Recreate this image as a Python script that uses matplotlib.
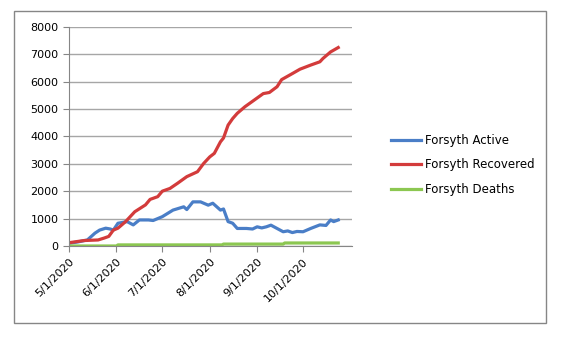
import matplotlib.pyplot as plt
import matplotlib.dates as mdates
import numpy as np
import pandas as pd

# dias contados a partir de 5/1/2020
start = pd.Timestamp('2020-05-01')
month_ticks = ['2020-05-01', '2020-06-01', '2020-07-01', '2020-08-01', '2020-09-01', '2020-10-01']

active_days = [0, 6, 12, 17, 20, 24, 27, 29, 32, 38, 42, 46, 52, 55, 61, 68, 75, 77, 81, 86,
               91, 94, 99, 101, 104, 107, 110, 116, 120, 123, 126, 129, 132, 136, 140, 143,
               146, 149, 153, 158, 164, 168, 171, 173, 176]
active = [100, 150, 220, 470, 580, 650, 620, 580, 830, 890, 770, 950, 950, 930, 1070, 1310,
          1430, 1330, 1610, 1610, 1490, 1560, 1310, 1350, 890, 830, 640, 640, 620, 700, 660,
          700, 760, 640, 520, 550, 490, 530, 520, 640, 770, 750, 950, 890, 950]

recovered_days = [0, 10, 19, 23, 26, 29, 32, 37, 43, 50, 53, 58, 61, 66, 71, 77, 84, 88, 92,
                  95, 99, 101, 104, 107, 110, 115, 120, 127, 131, 136, 139, 146, 151, 158,
                  164, 166, 171, 176]
recovered = [120, 200, 220, 290, 350, 580, 650, 890, 1250, 1500, 1700, 1800, 2000, 2100, 2290,
             2530, 2710, 3010, 3250, 3380, 3800, 3940, 4410, 4650, 4840, 5080, 5280, 5560,
             5600, 5810, 6070, 6290, 6450, 6600, 6720, 6840, 7080, 7240]

deaths_days = [0, 31, 32, 100, 101, 140, 141, 176]
deaths = [0, 0, 40, 40, 70, 70, 110, 110]

def to_dates(days):
    return [start + pd.Timedelta(days=d) for d in days]

fig = plt.figure(figsize=(5.79, 3.37), dpi=100)

# borda externa do grafico
fig.patches.append(plt.Rectangle((14 / 579, 1 - 323 / 337), 532 / 579, 312 / 337,
                                 transform=fig.transFigure, fill=False,
                                 edgecolor='#868686', linewidth=1))

ax = fig.add_axes([69 / 579, 1 - 246 / 337, 283 / 579, 219.3 / 337])

ax.plot(to_dates(active_days), active, color='#4A7EC7', linewidth=2.3, label='Forsyth Active')
ax.plot(to_dates(recovered_days), recovered, color='#D33B3B', linewidth=2.3, label='Forsyth Recovered')
ax.plot(to_dates(deaths_days), deaths, color='#8CC751', linewidth=2.3, label='Forsyth Deaths')

ax.set_ylim(0, 8000)
ax.set_yticks(np.arange(0, 8001, 1000))
ax.set_xlim(start, start + pd.Timedelta(days=185))
ax.set_xticks(pd.to_datetime(month_ticks))
ax.xaxis.set_major_formatter(mdates.DateFormatter('%-m/%-d/%Y'))

ax.grid(axis='y', color='#a6a6a6', linewidth=1)
ax.set_axisbelow(True)
for s in ['top', 'right']:
    ax.spines[s].set_visible(False)
for s in ['left', 'bottom']:
    ax.spines[s].set_color('#868686')
ax.tick_params(axis='both', colors='#868686', labelcolor='black', labelsize=8, length=4)
plt.setp(ax.get_xticklabels(), rotation=45, ha='right', rotation_mode='anchor')

fig.legend(loc='center left', bbox_to_anchor=(380 / 579, 1 - 165 / 337), frameon=False,
           fontsize=8.5, handlelength=2.6, handletextpad=0.3, labelspacing=1.0)

plt.savefig('out.png', dpi=100)
